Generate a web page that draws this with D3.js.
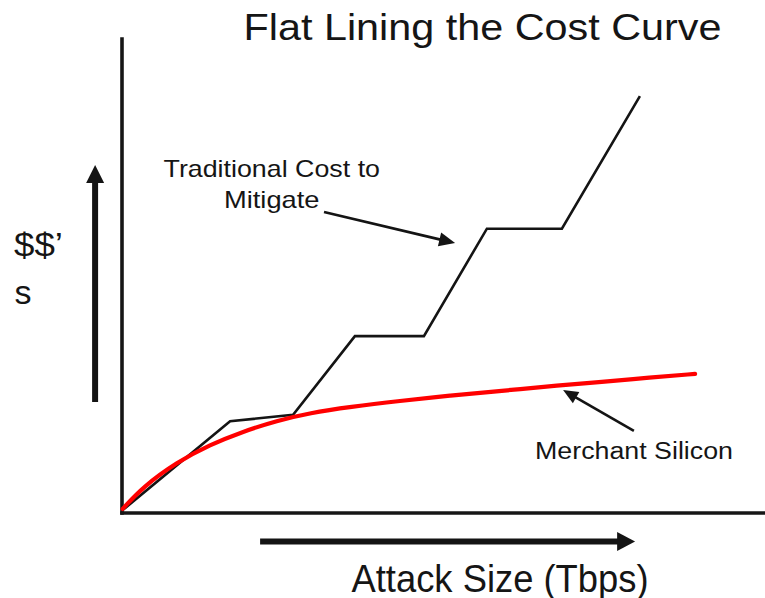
<!DOCTYPE html>
<html>
<head>
<meta charset="utf-8">
<script src="https://cdn.jsdelivr.net/npm/d3@7"></script>
<style>
  html, body { margin: 0; padding: 0; background: #fff; }
  svg { display: block; }
  text { font-family: "Liberation Sans", Arial, Helvetica, sans-serif; fill: #151515; }
</style>
</head>
<body>
<svg id="chart" width="765" height="598"></svg>
<script>
// ---- data (units: x = attack size, y = cost) ----
const traditionalX = [0.2, 18.1, 28.6, 38.9, 50.4, 60.9, 73.4, 86.4];
const traditionalY = [0.4, 15.2, 16.3, 29.4, 29.4, 47.3, 47.3, 69.4];

const merchantX = [0.2, 3.6, 9.25, 14.75, 20.25, 25.9, 31.4, 38.1, 46.4, 54.75, 63.1, 73.1, 79.75, 88.1, 95.6];
const merchantY = [0.6, 4.3, 8.4, 11.3, 13.5, 15.3, 16.6, 17.6, 18.6, 19.5, 20.25, 21.2, 21.75, 22.5, 23.1];

const titleText = "Flat Lining the Cost Curve";
const xLabel = "Attack Size (Tbps)";
const yLabelLines = ["$$\u2019", "s"];
const tradLabelLines = ["Traditional Cost to", "Mitigate"];
const merchantLabel = "Merchant Silicon";

// annotation arrows [tailX, tailY, tipX, tipY] in data units
const tradArrow = [33.75, 50.1, 55.6, 44.9];
const merchantArrow = [85.4, 13.6, 73.6, 20.4];
// big axis-direction arrows
const yDirArrow = [-4.4, 18.4, -4.4, 57.9];
const xDirArrow = [23.1, -4.83, 85.6, -4.83];

// ---- scales ----
const svg = d3.select("#chart");
const x = d3.scaleLinear().domain([0, 107.25]).range([121.5, 765]);
const y = d3.scaleLinear().domain([0, 79]).range([512.5, 38.5]);

// ---- axes (no ticks) ----
const gx = svg.append("g").attr("transform", `translate(0,${y(0)})`)
  .call(d3.axisBottom(x).tickValues([]).tickSizeOuter(0));
const gy = svg.append("g").attr("transform", `translate(${x(0)},0)`)
  .call(d3.axisLeft(y).tickValues([]).tickSizeOuter(0));
[gx, gy].forEach(g => g.select(".domain")
  .attr("stroke", "#161616").attr("stroke-width", 3.6).attr("stroke-linecap", "square"));

// ---- lines ----
const tradData = traditionalX.map((v, i) => [v, traditionalY[i]]);
const merchData = merchantX.map((v, i) => [v, merchantY[i]]);

svg.append("path")
  .datum(tradData)
  .attr("fill", "none")
  .attr("stroke", "#141414")
  .attr("stroke-width", 2.6)
  .attr("stroke-linejoin", "miter")
  .attr("d", d3.line().x(d => x(d[0])).y(d => y(d[1])));

svg.append("path")
  .datum(merchData)
  .attr("fill", "none")
  .attr("stroke", "#ff0000")
  .attr("stroke-width", 4.2)
  .attr("stroke-linecap", "round")
  .attr("d", d3.line().curve(d3.curveBasis).x(d => x(d[0])).y(d => y(d[1])));

// ---- arrows ----
function arrow(a, width, headLen, headW) {
  const x1 = x(a[0]), y1 = y(a[1]), x2 = x(a[2]), y2 = y(a[3]);
  const ang = Math.atan2(y2 - y1, x2 - x1);
  const bx = x2 - headLen * Math.cos(ang), by = y2 - headLen * Math.sin(ang);
  svg.append("line")
    .attr("x1", x1).attr("y1", y1).attr("x2", bx + Math.cos(ang)).attr("y2", by + Math.sin(ang))
    .attr("stroke", "#141414").attr("stroke-width", width);
  const px = -Math.sin(ang) * headW / 2, py = Math.cos(ang) * headW / 2;
  svg.append("path")
    .attr("d", `M${x2},${y2}L${bx + px},${by + py}L${bx - px},${by - py}Z`)
    .attr("fill", "#141414");
}
arrow(tradArrow, 2.6, 16, 14);
arrow(merchantArrow, 2.6, 15, 13);
arrow(yDirArrow, 6, 18, 18);
arrow(xDirArrow, 6, 18, 19);

// ---- text ----
function fitText(str, xs, ys, size, width, anchor) {
  const t = svg.append("text")
    .attr("x", xs).attr("y", ys)
    .attr("font-size", size)
    .attr("text-anchor", anchor || "start")
    .text(str);
  if (width) t.attr("textLength", width).attr("lengthAdjust", "spacingAndGlyphs");
  return t;
}
fitText(titleText, 243.5, 39.5, 37, 478);
fitText(tradLabelLines[0], 163.5, 176.5, 24, 216.5);
fitText(tradLabelLines[1], 224, 208.3, 24, 95.5);
fitText(merchantLabel, 535, 459.3, 23.5, 198);
fitText(xLabel, 351.5, 591.5, 38, 297);
fitText(yLabelLines[0], 14, 256, 34, 49);
fitText(yLabelLines[1], 14.5, 304, 34);
</script>
</body>
</html>
